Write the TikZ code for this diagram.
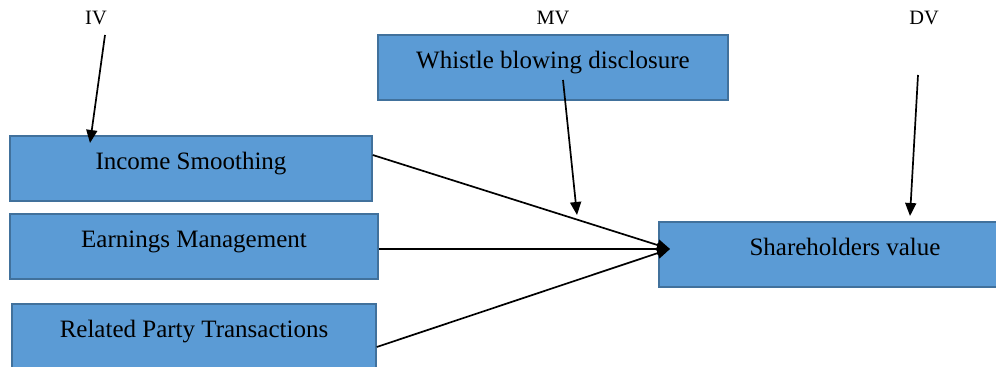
\documentclass[tikz,border=0pt]{standalone}
\usepackage{fontspec}
\setmainfont{Liberation Serif}
\usepackage{xcolor}
\usepackage{tikz}
\usetikzlibrary{arrows.meta,positioning}

\definecolor{boxfill}{RGB}{91,155,213}
\definecolor{boxline}{RGB}{65,113,156}

\begin{document}
\begin{tikzpicture}[
    x=0.5pt, y=-0.5pt,
    %styles
    var box/.style={draw=boxline, fill=boxfill, line width=0.75pt, inner ysep=0pt,
        text height=17pt, text depth=15.5pt, font=\fontsize{12.5}{15}\selectfont},
    var label/.style={font=\fontsize{10.2}{12}\selectfont},
    link/.style={-{Triangle[length=6.5pt,width=5.5pt]}, line width=0.85pt},
  ]
  \useasboundingbox (0,0) rectangle (996,367);

  %variable boxes
  \node[var box, minimum width=181pt] (income) at (191,168.5) {Income Smoothing};
  \node[var box, minimum width=184pt] (earnings) at (194,246.5) {Earnings Management};
  \node[var box, minimum width=182pt] (related) at (194,336.5) {Related Party Transactions};
  \node[var box, minimum width=175pt] (whistle) at (553,67.5) {Whistle blowing disclosure};
  \node[var box, minimum width=186pt] (value) at (845,254.5) {Shareholders value};

  %column labels
  \node[var label] (iv) at (96,18) {IV};
  \node[var label] (mv) at (553,18) {MV};
  \node[var label] (dv) at (924,18) {DV};

  %arrow ends
  \coordinate (iv tail) at (105,35);
  \coordinate (iv head) at (90,143);
  \coordinate (mv tail) at (563,80);
  \coordinate (mv head) at (577,215);
  \coordinate (dv tail) at (918,75);
  \coordinate (dv head) at (910,216);
  \coordinate (value in) at (670,249);

  \draw[link] (iv tail) -- (iv head);
  \draw[link] (mv tail) -- (mv head);
  \draw[link] (dv tail) -- (dv head);

  \draw[link] ([yshift=6.75pt]income.east) -- (value in);
  \draw[link] ([yshift=-1.25pt]earnings.east) -- (value in);
  \draw[link] ([yshift=-5.25pt]related.east) -- (value in);
\end{tikzpicture}
\end{document}
